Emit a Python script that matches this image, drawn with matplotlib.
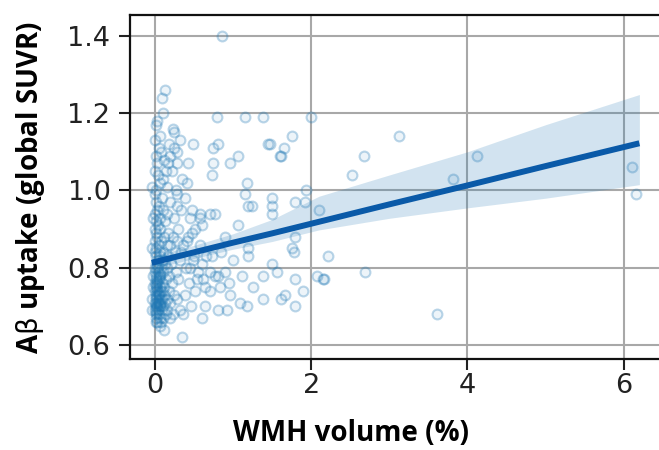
import numpy as np
import matplotlib
matplotlib.use("Agg")
import matplotlib.pyplot as plt

# WMH volume (%) and global amyloid SUVR per subject
wmh_sparse = [0.86, 0.13, 0.09, 0.03, 0.10, 0.23, 0.06, 0.79, 1.16, 1.38, 2.00, 0.25,
              0.49, 0.74, 0.81, 1.45, 1.65, 1.76, 1.60, 1.61, 1.06, 0.96, 0.74, 0.73,
              1.18, 1.16, 3.12, 2.67, 2.52, 1.47, 1.93, 1.79, 1.92, 2.10, 1.50, 1.50,
              1.50, 1.79, 1.78, 2.21, 1.50, 1.56, 1.79, 2.07, 2.15, 2.16, 2.69, 1.89,
              1.66, 1.62, 1.79, 4.12, 3.82, 6.10, 6.16, 3.61]
suvr_sparse = [1.40, 1.26, 1.24, 1.18, 1.20, 1.16, 1.14, 1.19, 1.19, 1.19, 1.19, 1.15,
               1.12, 1.11, 1.12, 1.12, 1.11, 1.14, 1.09, 1.09, 1.09, 1.07, 1.07, 1.04,
               1.02, 0.99, 1.14, 1.09, 1.04, 1.12, 1.00, 0.97, 0.97, 0.95, 0.98, 0.96,
               0.94, 0.88, 0.84, 0.83, 0.81, 0.79, 0.77, 0.78, 0.77, 0.77, 0.79, 0.74,
               0.73, 0.72, 0.70, 1.09, 1.03, 1.06, 0.99, 0.68]

wmh_mid = [1.19, 1.24, 0.70, 0.77, 0.58, 0.45, 0.60, 1.06, 0.47, 0.23, 0.28, 0.36,
           0.19, 0.10, 0.66, 0.73, 1.19, 1.19, 1.76, 0.49, 0.32, 0.45, 0.54, 0.70,
           0.77, 0.81, 0.90, 1.11, 1.38, 1.25, 0.64, 0.70, 0.83, 0.96, 1.38, 1.09,
           0.64, 0.81, 0.92, 1.18, 0.60, 0.35, 0.32, 0.23, 0.29, 0.28, 0.42, 0.17,
           0.35, 0.41, 0.15, 0.29, 0.15, 0.28, 0.47, 0.51, 0.58, 0.41, 0.17, 0.06,
           0.33, 0.40, 0.44, 0.50, 0.55, 0.38, 0.46, 0.52, 0.60, 0.62, 0.36, 0.42,
           0.58, 0.30, 0.85, 0.90, 1.00, 0.95]
suvr_mid = [0.96, 0.96, 0.94, 0.94, 0.94, 0.93, 0.91, 0.91, 0.89, 0.88, 0.87, 0.86,
            0.86, 0.84, 0.83, 0.83, 0.85, 0.83, 0.85, 0.82, 0.82, 0.80, 0.77, 0.79,
            0.78, 0.78, 0.79, 0.78, 0.78, 0.75, 0.75, 0.74, 0.75, 0.73, 0.72, 0.71,
            0.70, 0.69, 0.69, 0.70, 0.67, 0.62, 0.69, 0.68, 1.10, 1.07, 1.07, 1.07,
            1.03, 1.02, 1.01, 0.99, 0.94, 0.96, 0.95, 0.90, 0.93, 0.87, 0.89, 0.90,
            0.84, 0.80, 0.76, 0.83, 0.79, 0.73, 0.70, 0.74, 0.81, 0.77, 0.68, 0.88,
            0.86, 0.90, 0.84, 0.88, 0.82, 0.76]

# subjects with almost no WMH
wmh_low = [0.02, 0.00, 0.05, 0.01, 0.08, 0.03, 0.00, 0.12, 0.04, 0.06, 0.02, 0.10,
           0.00, 0.14, 0.20, 0.18, 0.25, 0.32, 0.22,
           0.01, 0.03, 0.00, 0.05, 0.07, 0.02, 0.11, 0.04, 0.00, 0.13, 0.09, 0.20,
           0.24, 0.34, 0.38, 0.27,
           0.01, 0.03, 0.00, 0.05, 0.02, 0.08, 0.12, 0.15, 0.06,
           0.00, 0.02, 0.04, 0.01, 0.07, 0.10, 0.03, 0.13, 0.17, 0.21, 0.26, 0.00,
           0.00, 0.02, 0.04, 0.01, 0.03, 0.05, 0.07, 0.09, 0.00, 0.06, 0.11, 0.14,
           0.18, 0.22, 0.12, 0.02, 0.16, 0.27, 0.30, 0.08,
           0.00, 0.01, 0.03, 0.02, 0.04, 0.05, 0.06, 0.08, 0.00, 0.01, 0.03, 0.07,
           0.09, 0.10, 0.12, 0.15, 0.02, 0.04, 0.13, 0.18, 0.20, 0.24, 0.06, 0.11,
           0.28,
           0.00, 0.02, 0.04, 0.01, 0.03, 0.05, 0.07, 0.09, 0.06, 0.11, 0.14, 0.02,
           0.08, 0.16, 0.19, 0.12,
           -0.03, -0.02, -0.03, -0.02, -0.03, -0.02, -0.03,
           0.01, 0.03, 0.05, 0.02, 0.04, 0.06, 0.01, 0.03, 0.05, 0.07, 0.02, 0.04]
suvr_low = [1.17, 1.13, 1.11, 1.09, 1.10, 1.07, 1.05, 1.08, 1.04, 1.02, 1.00, 1.03,
            0.99, 1.05, 1.09, 1.12, 1.11, 1.13, 1.05,
            0.97, 0.95, 0.94, 0.96, 0.93, 0.92, 0.95, 0.91, 0.90, 0.92, 0.98, 0.97,
            0.93, 0.95, 0.98, 1.00,
            0.89, 0.88, 0.87, 0.86, 0.85, 0.87, 0.88, 0.86, 0.84,
            0.84, 0.83, 0.82, 0.81, 0.83, 0.82, 0.80, 0.81, 0.83, 0.81, 0.84, 0.80,
            0.79, 0.78, 0.79, 0.77, 0.76, 0.77, 0.78, 0.76, 0.76, 0.75, 0.79, 0.77,
            0.78, 0.76, 0.75, 0.75, 0.80, 0.79, 0.77, 0.80,
            0.74, 0.73, 0.74, 0.72, 0.71, 0.73, 0.72, 0.74, 0.71, 0.70, 0.70, 0.71,
            0.72, 0.70, 0.73, 0.72, 0.71, 0.73, 0.71, 0.74, 0.71, 0.73, 0.70, 0.74,
            0.72,
            0.69, 0.68, 0.69, 0.67, 0.66, 0.68, 0.67, 0.69, 0.65, 0.67, 0.68, 0.66,
            0.66, 0.69, 0.67, 0.64,
            0.72, 0.78, 0.85, 0.93, 1.01, 0.75, 0.69,
            0.755, 0.745, 0.735, 0.725, 0.715, 0.705, 0.695, 0.765, 0.775, 0.785,
            0.685, 0.805]

# fitted regression line and its confidence band
fit_x = [-0.04, 0.5, 1.0, 1.5, 2.1, 3.0, 4.0, 5.0, 6.2]
fit_y = [0.813, 0.840, 0.865, 0.889, 0.919, 0.964, 1.013, 1.063, 1.122]
ci_lo = [0.797, 0.824, 0.848, 0.868, 0.898, 0.928, 0.955, 0.980, 1.015]
ci_hi = [0.830, 0.858, 0.888, 0.925, 0.985, 1.040, 1.100, 1.170, 1.248]

wmh = np.array(wmh_sparse + wmh_mid + wmh_low)
suvr = np.array(suvr_sparse + suvr_mid + suvr_low)

blue = "#1f77b4"

fig = plt.figure(figsize=(6.59, 4.5), dpi=100)
ax = fig.add_axes([0.197, 0.202, 0.81, 0.765])

ax.scatter(wmh, suvr, s=50, facecolors=(0.12, 0.47, 0.71, 0.08),
           edgecolors=(0.12, 0.47, 0.71, 0.3), linewidths=1.5, zorder=3)
ax.fill_between(fit_x, ci_lo, ci_hi, color=blue, alpha=0.2, linewidth=0, zorder=2)
ax.plot(fit_x, fit_y, color="#0a5aa8", linewidth=4.3, solid_capstyle="butt", zorder=4)

ax.set_xlim(-0.32, 6.51)
ax.set_ylim(0.564, 1.454)
ax.set_xticks([0, 2, 4, 6])
ax.set_yticks([0.6, 0.8, 1.0, 1.2, 1.4])
ax.set_yticklabels(["0.6", "0.8", "1.0", "1.2", "1.4"])

ax.grid(True, color="#a8a8a8", linewidth=1.5)
ax.set_axisbelow(True)
for side in ["left", "top", "bottom"]:
    ax.spines[side].set_linewidth(1.6)
    ax.spines[side].set_color("#111111")
ax.spines["right"].set_visible(False)
ax.tick_params(labelsize=19.5, length=8, width=1.5, colors="#222222")
ax.tick_params(axis="y", pad=6)
ax.tick_params(axis="x", pad=2)

label_font = dict(family=["Open Sans", "DejaVu Sans"], fontsize=20, fontweight="bold")
ax.set_xlabel("WMH volume (%)", **label_font)
ax.set_ylabel(r"A$\mathrm{\beta}$ uptake (global SUVR)", **label_font)
ax.xaxis.set_label_coords(0.414, -0.175)
ax.yaxis.set_label_coords(-0.155, 0.5)

fig.savefig("out.png", dpi=100)
